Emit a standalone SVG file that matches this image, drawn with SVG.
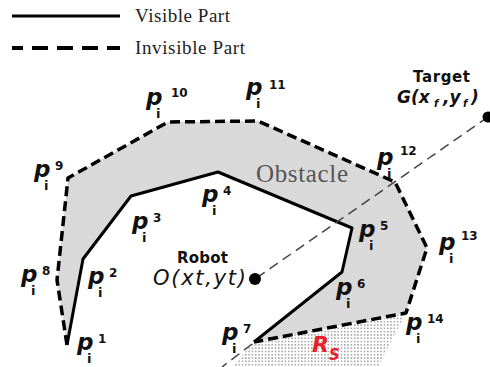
<svg xmlns="http://www.w3.org/2000/svg" width="490" height="367" viewBox="0 0 490 367">
<style>
.leg{font-family:"Liberation Sans",sans-serif;font-size:19px;fill:#222}
.leg{font-family:"Liberation Serif",serif}
.vis{fill:none;stroke:#000;stroke-width:3;stroke-linejoin:round}
.inv{fill:none;stroke:#000;stroke-width:3.5;stroke-dasharray:10 5;stroke-linejoin:round}
.ray{fill:none;stroke:#444;stroke-width:1.5;stroke-dasharray:10 6}
.p{font-family:"DejaVu Sans",Verdana,sans-serif;font-weight:bold;font-style:italic;font-size:23px;fill:#111}
.s{font-style:normal;font-size:13px}
.u{font-style:normal;font-size:12px}
.lab{font-family:"DejaVu Sans",Verdana,sans-serif;font-weight:bold;fill:#111}
</style>
<defs>
<pattern id="dots" width="3.3" height="3.3" patternUnits="userSpaceOnUse">
<circle cx="1.6" cy="1.6" r="0.8" fill="#8f8f8f"/>
</pattern>
</defs>
<rect width="490" height="367" fill="#fff"/>
<g id="legend">
<line x1="12" y1="16" x2="120" y2="16" stroke="#000" stroke-width="3"/>
<text class="leg" x="135" y="22" textLength="95">Visible Part</text>
<line x1="12" y1="48" x2="120" y2="48" stroke="#000" stroke-width="4" stroke-dasharray="16 9" stroke-dashoffset="5"/>
<text class="leg" x="135" y="54" textLength="110">Invisible Part</text>
</g>
<g id="sensor-region">
<polygon points="254,342 406,313 378,367 232,367" fill="url(#dots)"/>
<text x="312" y="352" font-family="DejaVu Sans,Verdana,sans-serif" font-weight="bold" font-style="italic" font-size="22" fill="#e8202a">R<tspan font-size="15" dy="8">S</tspan></text>
</g>
<g id="obstacle">
<polygon points="67,345 57,280 68,178 168,122 258,121 395,182 427,248 406,313 254,342 342,272 352,228 218,172 131,196 83,259" fill="#d9d9d9"/>
<text x="256" y="182" font-family="Liberation Serif,serif" font-size="25" fill="#555" textLength="92">Obstacle</text>
</g>
<g id="connectors">
<polyline class="vis" points="67,345 83,259 131,196 218,172 352,228 342,272 254,342"/>
<polyline class="inv" points="67,345 57,280 68,178 168,122 258,121 395,182 427,248 406,313 254,342"/>
<line class="ray" x1="488" y1="117" x2="255" y2="279"/>
<line class="ray" x1="252" y1="344" x2="222" y2="367" stroke="#777"/>
</g>
<g id="target">
<circle cx="488" cy="117" r="5.5" fill="#000"/>
<text class="lab" x="413" y="82" font-size="15" textLength="57">Target</text>
<text class="lab" font-size="17" font-style="italic" y="103"><tspan x="397">G(x</tspan><tspan x="434" y="107" font-size="10">f</tspan><tspan x="443" y="103">,y</tspan><tspan x="463" y="107" font-size="10">f</tspan><tspan x="471" y="103">)</tspan></text>
</g>
<g id="robot">
<circle cx="255" cy="279" r="6" fill="#000"/>
<text class="lab" x="177" y="263" font-size="15" textLength="51">Robot</text>
<text x="153" y="285" font-family="DejaVu Sans,Verdana,sans-serif" font-style="italic" font-size="21" fill="#111" textLength="93">O(xt,yt)</text>
</g>
<g id="p1"><text class="p" x="77" y="350">p<tspan class="s" x="87" y="363">i</tspan><tspan class="u" x="98" y="343">1</tspan></text></g>
<g id="p2"><text class="p" x="88" y="284">p<tspan class="s" x="98" y="297">i</tspan><tspan class="u" x="109" y="277">2</tspan></text></g>
<g id="p3"><text class="p" x="132" y="229">p<tspan class="s" x="142" y="242">i</tspan><tspan class="u" x="153" y="222">3</tspan></text></g>
<g id="p4"><text class="p" x="202" y="202">p<tspan class="s" x="212" y="215">i</tspan><tspan class="u" x="223" y="195">4</tspan></text></g>
<g id="p5"><text class="p" x="359" y="237">p<tspan class="s" x="369" y="250">i</tspan><tspan class="u" x="380" y="230">5</tspan></text></g>
<g id="p6"><text class="p" x="336" y="295">p<tspan class="s" x="346" y="308">i</tspan><tspan class="u" x="357" y="288">6</tspan></text></g>
<g id="p7"><text class="p" x="222" y="340">p<tspan class="s" x="232" y="353">i</tspan><tspan class="u" x="243" y="333">7</tspan></text></g>
<g id="p8"><text class="p" x="21" y="282">p<tspan class="s" x="31" y="295">i</tspan><tspan class="u" x="42" y="275">8</tspan></text></g>
<g id="p9"><text class="p" x="34" y="177">p<tspan class="s" x="44" y="190">i</tspan><tspan class="u" x="55" y="170">9</tspan></text></g>
<g id="p10"><text class="p" x="146" y="105">p<tspan class="s" x="156" y="118">i</tspan><tspan class="u" x="171" y="97">10</tspan></text></g>
<g id="p11"><text class="p" x="246" y="95">p<tspan class="s" x="256" y="108">i</tspan><tspan class="u" x="269" y="89">11</tspan></text></g>
<g id="p12"><text class="p" x="377" y="165">p<tspan class="s" x="387" y="178">i</tspan><tspan class="u" x="400" y="155">12</tspan></text></g>
<g id="p13"><text class="p" x="439" y="250">p<tspan class="s" x="449" y="263">i</tspan><tspan class="u" x="461" y="240">13</tspan></text></g>
<g id="p14"><text class="p" x="406" y="330">p<tspan class="s" x="416" y="343">i</tspan><tspan class="u" x="427" y="323">14</tspan></text></g>
</svg>
